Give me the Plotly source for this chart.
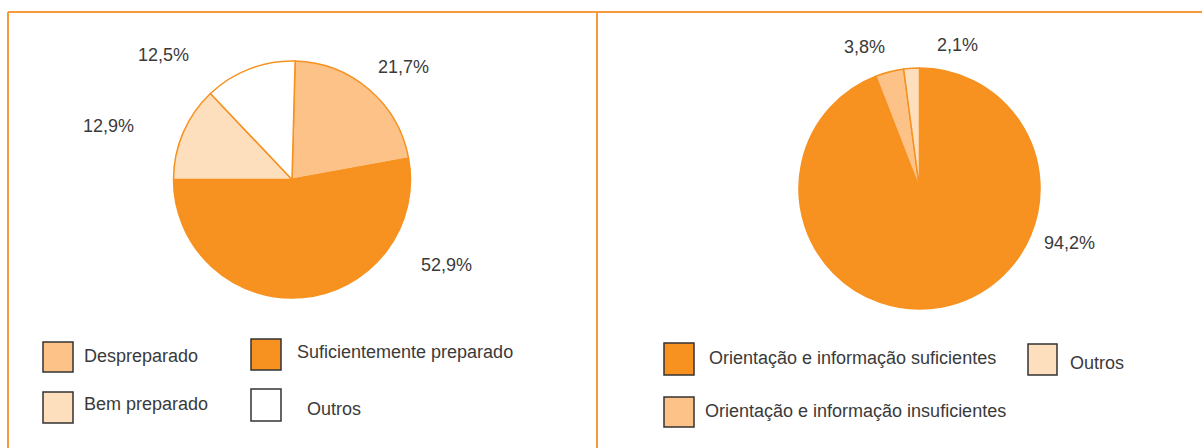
import plotly.graph_objects as go

W, H = 1202, 448

# ---- data ----
left_labels = ["Despreparado", "Suficientemente preparado", "Bem preparado", "Outros"]
left_values = [21.7, 52.9, 12.9, 12.5]
left_text = ["21,7%", "52,9%", "12,9%", "12,5%"]

right_labels = ["Orientação e informação suficientes",
                "Orientação e informação insuficientes", "Outros"]
right_values = [94.2, 3.8, 2.1]
right_text = ["94,2%", "3,8%", "2,1%"]

# ---- styles ----
C_DARK = "#F7911F"
C_MED = "#FCC288"
C_LIGHT = "#FEDFBD"
C_WHITE = "#FFFFFF"
left_colors = [C_MED, C_DARK, C_LIGHT, C_WHITE]
right_colors = [C_DARK, C_MED, C_LIGHT]
BORDER = "#F79A3E"
TXT = "#3a3a3a"
FONT = "Liberation Sans, Arial, sans-serif"


def px(x):
    return x / W


def py(y):
    return 1 - y / H


fig = go.Figure()

fig.add_trace(go.Pie(
    labels=left_labels, values=left_values, sort=False, direction="clockwise",
    rotation=1.5, textinfo="none", hoverinfo="label+percent",
    marker=dict(colors=left_colors, line=dict(color=C_DARK, width=1.5)),
    domain=dict(x=[px(173.5), px(410.5)], y=[py(298), py(61)]),
    showlegend=False,
))
fig.add_trace(go.Pie(
    labels=right_labels, values=right_values, sort=False, direction="clockwise",
    rotation=0, textinfo="none", hoverinfo="label+percent",
    marker=dict(colors=right_colors, line=dict(color=C_DARK, width=1.5)),
    domain=dict(x=[px(799), px(1040)], y=[py(309), py(68)]),
    showlegend=False,
))

annotations = []
shapes = []

# percentage labels
left_pos = [(403, 67), (446, 265), (108, 126), (163, 55)]
right_pos = [(1069, 243), (864, 47), (957, 45)]
for t, (x, y) in zip(left_text + right_text, left_pos + right_pos):
    annotations.append(dict(x=px(x), y=py(y), xref="paper", yref="paper", text=t,
                            showarrow=False, xanchor="center", yanchor="middle",
                            font=dict(family=FONT, size=18, color=TXT)))

# custom legends
left_leg = [  # square (x0,y0,x1,y1), text x, text y
    ((43, 342, 73, 372), 82, 356),
    ((251, 339, 281, 370), 295, 352),
    ((43, 392, 73, 423), 82, 404),
    ((251, 389, 281, 421), 305, 409),
]
right_leg = [
    ((664, 343, 694, 375), 707, 358),
    ((664, 397, 694, 427), 703, 411),
    ((1028, 344, 1057, 375), 1068, 363),
]
for (sq, tx, ty), lab, col in zip(left_leg + right_leg,
                                 left_labels + right_labels,
                                 left_colors + right_colors):
    x0, y0, x1, y1 = sq
    shapes.append(dict(type="rect", xref="paper", yref="paper",
                       x0=px(x0), x1=px(x1), y0=py(y1), y1=py(y0),
                       fillcolor=col, line=dict(color="#333333", width=1.5)))
    annotations.append(dict(x=px(tx), y=py(ty), xref="paper", yref="paper", text=lab,
                            showarrow=False, xanchor="left", yanchor="middle",
                            font=dict(family=FONT, size=18, color=TXT)))

# frame lines
for (x0, y0, x1, y1) in [(8, 12, W, 12), (8, 12, 8, H), (597, 12, 597, H)]:
    shapes.append(dict(type="line", xref="paper", yref="paper",
                       x0=px(x0), x1=px(x1), y0=py(y0), y1=py(y1),
                       line=dict(color=BORDER, width=2)))

fig.update_layout(
    width=W, height=H,
    margin=dict(l=0, r=0, t=0, b=0),
    paper_bgcolor="white", plot_bgcolor="white",
    annotations=annotations, shapes=shapes,
    font=dict(family=FONT, color=TXT),
)

fig.write_html("out.html", config={"displayModeBar": False},
               post_script="document.body.style.margin='0';document.body.style.overflow='hidden';")
